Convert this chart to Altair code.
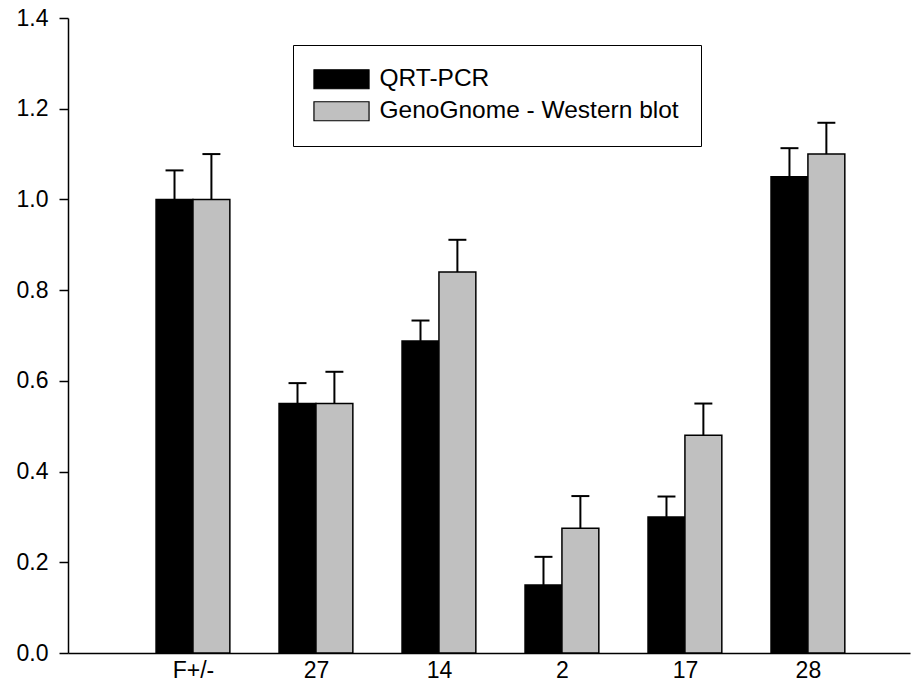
import altair as alt
import pandas as pd

categories = ["F+/-", "27", "14", "2", "17", "28"]
qrt_pcr = [1.0, 0.55, 0.688, 0.15, 0.30, 1.05]
qrt_pcr_err = [0.064, 0.045, 0.045, 0.062, 0.045, 0.063]
western = [1.0, 0.55, 0.84, 0.275, 0.48, 1.10]
western_err = [0.10, 0.07, 0.071, 0.071, 0.07, 0.069]
series_names = ["QRT-PCR", "GenoGnome - Western blot"]
y_ticks = [0.0, 0.2, 0.4, 0.6, 0.8, 1.0, 1.2, 1.4]

BAR_W = 0.3
CAP_HALF = 0.073

rows = []
for i, cat in enumerate(categories):
    pos = i + 1
    for s, (vals, errs, off) in enumerate([(qrt_pcr, qrt_pcr_err, -1), (western, western_err, 0)]):
        x0 = pos + off * BAR_W
        x1 = x0 + BAR_W
        mid = (x0 + x1) / 2
        rows.append({
            "category": cat, "series": series_names[s], "x0": x0, "x1": x1,
            "mid": mid, "cap0": mid - CAP_HALF, "cap1": mid + CAP_HALF,
            "base": 0.0, "value": vals[i], "top": vals[i] + errs[i],
        })
df = pd.DataFrame(rows)

label_expr = "[" + ",".join("'" + c + "'" for c in categories) + "][round(datum.value) - 1]"

x_scale = alt.Scale(domain=[-0.016, 6.83], nice=False, zero=False)
y_scale = alt.Scale(domain=[0, 1.4], nice=False)

color = alt.Color(
    "series:N",
    scale=alt.Scale(domain=series_names, range=["#000000", "#c0c0c0"]),
    legend=alt.Legend(
        title=None, orient="none", legendX=225, legendY=27,
        symbolType="M-1.4,-1H4.4V1H-1.4Z", symbolSize=361,
        symbolStrokeColor="#000000", symbolStrokeWidth=1.2,
        labelFontSize=24.5, labelFont="Liberation Sans", labelColor="#000000",
        labelOffset=40, labelLimit=400,
        strokeColor="#000000", fillColor="#ffffff", padding=22,
        rowPadding=6,
    ),
)

base = alt.Chart(df)

bars = base.mark_bar(stroke="#000000", strokeWidth=1.5).encode(
    x=alt.X("x0:Q", scale=x_scale, axis=alt.Axis(
        values=[1, 2, 3, 4, 5, 6], labelExpr=label_expr, title=None,
        ticks=False, grid=False, domainColor="#000000", domainWidth=1.5,
        labelFontSize=23, labelFont="Liberation Sans", labelColor="#000000",
        labelPadding=6)),
    x2="x1:Q",
    y=alt.Y("value:Q", scale=y_scale, axis=alt.Axis(
        values=y_ticks, format=".1f", title=None, grid=False,
        tickSize=9, tickColor="#000000", tickWidth=1.5,
        domainColor="#000000", domainWidth=1.5,
        labelFontSize=23, labelFont="Liberation Sans", labelColor="#000000",
        labelPadding=11)),
    y2="base:Q",
    color=color,
)

stems = base.mark_rule(color="#000000", strokeWidth=2).encode(
    x=alt.X("mid:Q", scale=x_scale),
    y=alt.Y("value:Q", scale=y_scale),
    y2="top:Q",
)

caps = base.mark_rule(color="#000000", strokeWidth=2).encode(
    x=alt.X("cap0:Q", scale=x_scale),
    x2="cap1:Q",
    y=alt.Y("top:Q", scale=y_scale),
)

chart = alt.layer(bars, stems, caps).properties(
    width=842, height=635,
    autosize=alt.AutoSizeParams(type="none"),
    padding={"left": 68, "top": 18, "right": 10, "bottom": 28},
    background="#ffffff",
).configure_view(stroke=None)

chart.save("out.html", embed_options={"renderer": "svg", "actions": False})
